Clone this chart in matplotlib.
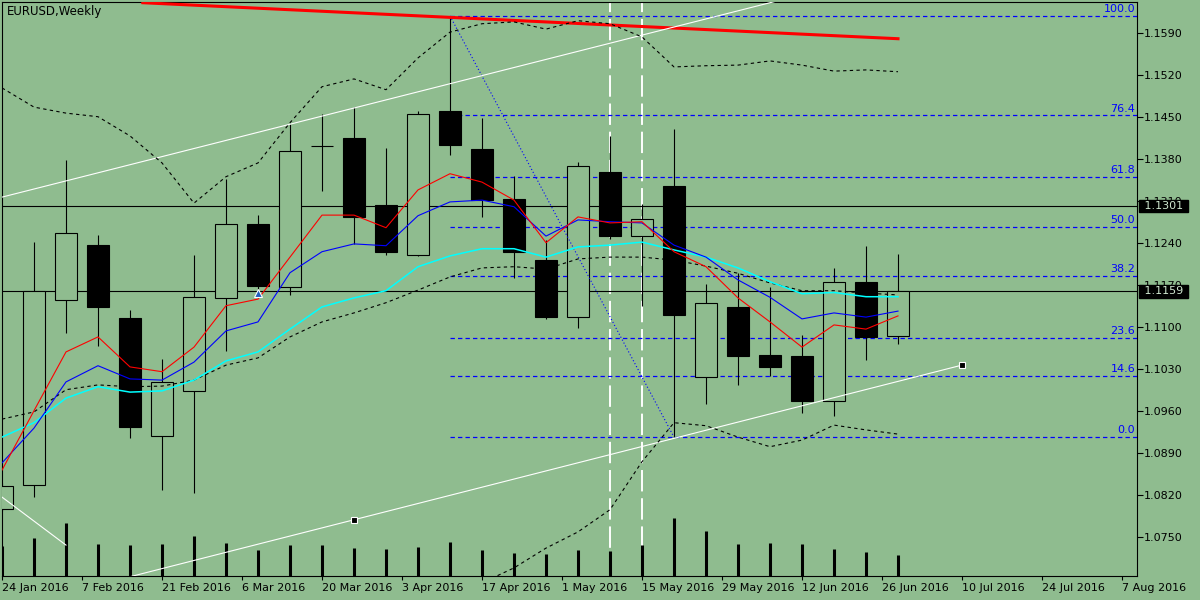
import numpy as np
import matplotlib.pyplot as plt
from matplotlib.patches import Rectangle
from matplotlib.transforms import blended_transform_factory

bg = '#8fbc8f'

# EURUSD weekly bars, index 0 = first bar visible at the left edge
opens = [1.0796, 1.0836, 1.1145, 1.1236, 1.1115, 1.0918, 1.0993, 1.1148, 1.1271, 1.1166,
         1.1401, 1.1415, 1.1303, 1.1220, 1.1460, 1.1396, 1.1313, 1.1211, 1.1116, 1.1358,
         1.1251, 1.1335, 1.1016, 1.1133, 1.1053, 1.1051, 1.0976, 1.1175, 1.1085]
highs = [1.0840, 1.1241, 1.1378, 1.1253, 1.1128, 1.1046, 1.1220, 1.1346, 1.1286, 1.1438,
         1.1455, 1.1466, 1.1398, 1.1460, 1.1618, 1.1448, 1.1351, 1.1245, 1.1375, 1.1418,
         1.1305, 1.1430, 1.1171, 1.1190, 1.1166, 1.1086, 1.1198, 1.1235, 1.1221]
lows = [1.0793, 1.0816, 1.1090, 1.1068, 1.0915, 1.0828, 1.0823, 1.1060, 1.1153, 1.1153,
        1.1326, 1.1238, 1.1220, 1.1218, 1.1386, 1.1283, 1.1181, 1.1113, 1.1098, 1.1246,
        1.1135, 1.0916, 1.0971, 1.1003, 1.1018, 1.0956, 1.0951, 1.1045, 1.1071]
closes = [1.0835, 1.1160, 1.1256, 1.1133, 1.0933, 1.1008, 1.1150, 1.1271, 1.1168, 1.1393,
          1.1402, 1.1283, 1.1225, 1.1455, 1.1403, 1.1311, 1.1225, 1.1116, 1.1368, 1.1251,
          1.1280, 1.1120, 1.1140, 1.1051, 1.1033, 1.0976, 1.1175, 1.1083, 1.1159]
volumes = [300, 380, 530, 320, 310, 320, 400, 330, 260, 310, 310, 280, 270, 290, 340,
           260, 230, 220, 260, 250, 310, 580, 450, 320, 330, 320, 270, 240, 210]

ma_red = [1.0861, 1.0960, 1.1058, 1.1083, 1.1033, 1.1025, 1.1066, 1.1135, 1.1146, 1.1216,
          1.1286, 1.1286, 1.1265, 1.1328, 1.1355, 1.1341, 1.1311, 1.1240, 1.1283, 1.1273,
          1.1275, 1.1225, 1.1200, 1.1148, 1.1108, 1.1066, 1.1103, 1.1096, 1.1118]
ma_blue = [1.0873, 1.0931, 1.1008, 1.1035, 1.1013, 1.1011, 1.1041, 1.1093, 1.1108, 1.1190,
           1.1225, 1.1238, 1.1235, 1.1285, 1.1308, 1.1311, 1.1300, 1.1251, 1.1278, 1.1275,
           1.1273, 1.1236, 1.1216, 1.1178, 1.1149, 1.1113, 1.1123, 1.1116, 1.1126]
ma_cyan = [1.0916, 1.0940, 1.0981, 1.1000, 1.0991, 1.0993, 1.1011, 1.1043, 1.1058, 1.1096,
           1.1133, 1.1148, 1.1160, 1.1200, 1.1218, 1.1230, 1.1230, 1.1216, 1.1233, 1.1236,
           1.1241, 1.1228, 1.1216, 1.1198, 1.1175, 1.1155, 1.1157, 1.1150, 1.1150]
band_up = [1.1498, 1.1466, 1.1456, 1.1450, 1.1418, 1.1373, 1.1306, 1.1350, 1.1373, 1.1440,
           1.1500, 1.1513, 1.1495, 1.1548, 1.1591, 1.1605, 1.1608, 1.1596, 1.1610, 1.1605,
           1.1583, 1.1533, 1.1535, 1.1536, 1.1543, 1.1536, 1.1526, 1.1528, 1.1525]
band_mid = [1.0946, 1.0958, 1.0995, 1.1003, 1.1000, 1.1001, 1.1011, 1.1036, 1.1048, 1.1083,
            1.1108, 1.1123, 1.1140, 1.1161, 1.1183, 1.1198, 1.1200, 1.1196, 1.1213, 1.1216,
            1.1216, 1.1211, 1.1201, 1.1189, 1.1173, 1.1160, 1.1160, 1.1156, 1.1153]
band_low = [np.nan] * 14 + [1.0645, 1.0673, 1.0698, 1.0731, 1.0758, 1.0795, 1.0875, 1.0940,
                            1.0935, 1.0916, 1.0900, 1.0911, 1.0936, 1.0928, 1.0921]

date_labels = ['24 Jan 2016', '7 Feb 2016', '21 Feb 2016', '6 Mar 2016', '20 Mar 2016',
               '3 Apr 2016', '17 Apr 2016', '1 May 2016', '15 May 2016', '29 May 2016',
               '12 Jun 2016', '26 Jun 2016', '10 Jul 2016', '24 Jul 2016', '7 Aug 2016']
date_pos = [2.5 * i for i in range(len(date_labels))]
price_ticks = [1.0750, 1.0820, 1.0890, 1.0960, 1.1030, 1.1100, 1.1170,
               1.1240, 1.1310, 1.1380, 1.1450, 1.1520, 1.1590]

# objects drawn on the chart
fib_levels = [0.0, 14.6, 23.6, 38.2, 50.0, 61.8, 76.4, 100.0]
fib_high = (14, 1.1618)
fib_low = (21, 1.0916)
hlines_black = [1.1301, 1.1159]
vlines_white = [19, 20]
red_trend = [(4.4, 1.1640), (28, 1.1580)]
white_up = [(0, 1.1316), (26, 1.1667)]
white_low = [(0, 1.0629), (30, 1.1036)]
white_low_marks = [(11, 1.0778), (30, 1.1036)]
white_small = [(0, 1.0816), (2, 1.0736)]
arrow_mark = (8, 1.1156)

fig = plt.figure(figsize=(12, 6), dpi=100, facecolor=bg)
ax = fig.add_axes([2 / 1200, 24 / 600, 1135 / 1200, 574 / 600])
ax2 = ax.twinx()
ax.set_zorder(2)
ax2.set_zorder(1)
ax.patch.set_visible(False)
ax2.patch.set_visible(True)
ax2.patch.set_facecolor(bg)

x = np.arange(len(opens))
ax.set_xlim(0, 1135 / 32)
ax.set_ylim(1.06845, 1.16412)

# volumes + vertical lines on the back axes
for v in vlines_white:
    ax2.axvline(v, color='white', lw=1.4, ls=(0, (11, 3.5)), zorder=1)
ax2.vlines(x, 0, volumes, color='black', lw=2.2, zorder=2)
ax2.set_ylim(0, 5740)
ax2.set_yticks([])
for s in ax2.spines.values():
    s.set_visible(False)

# candles
for i in range(len(opens)):
    o, h, l, c = opens[i], highs[i], lows[i], closes[i]
    ax.vlines(i, l, h, color='black', lw=0.8, zorder=3)
    fc = 'black' if c < o else bg
    ax.add_patch(Rectangle((i - 0.34, min(o, c)), 0.68, max(abs(c - o), 0.00005),
                           facecolor=fc, edgecolor='black', lw=0.8, zorder=4))

# horizontal lines
for p in hlines_black:
    ax.axhline(p, color='black', lw=0.8, zorder=2)

# fibonacci
rng = fib_high[1] - fib_low[1]
for lv in fib_levels:
    p = fib_low[1] + rng * lv / 100
    ax.hlines(p, fib_high[0], 1135 / 32, color='blue', lw=0.9, ls=(0, (3.5, 2.5)), zorder=2)
    ax.text(35.41, p + 0.0003, '%.1f' % lv, ha='right', va='bottom', color='blue', fontsize=8, zorder=6)
ax.plot([fib_high[0], fib_low[0]], [fib_high[1], fib_low[1]], color='blue', lw=0.8,
        ls=(0, (1, 2)), zorder=5)

# trend lines
ax.plot(*zip(*red_trend), color='red', lw=2.2, zorder=5)
ax.plot(*zip(*white_up), color='white', lw=0.8, zorder=5)
ax.plot(*zip(*white_low), color='white', lw=0.8, zorder=5)
ax.plot(*zip(*white_small), color='white', lw=0.8, zorder=5)
ax.plot(*zip(*white_low_marks), ls='none', marker='s', ms=4, mfc='black', mec='white', mew=0.8, zorder=6)
ax.plot(*arrow_mark, marker='^', ms=6, color='#1f5fbf', mec='white', mew=0.8, zorder=6)

# indicators
ax.plot(x, band_up, color='black', lw=0.8, ls=(0, (3, 3)), zorder=5)
ax.plot(x, band_mid, color='black', lw=0.8, ls=(0, (3, 3)), zorder=5)
ax.plot(x, band_low, color='black', lw=0.8, ls=(0, (3, 3)), zorder=5)
ax.plot(x, ma_cyan, color='cyan', lw=1.1, zorder=5)
ax.plot(x, ma_blue, color='blue', lw=0.8, zorder=5)
ax.plot(x, ma_red, color='red', lw=0.8, zorder=5)

# axes look
ax.yaxis.tick_right()
ax.set_yticks(price_ticks)
ax.set_yticklabels(['%.4f' % t for t in price_ticks])
ax.set_xticks(date_pos)
ax.set_xticklabels(date_labels, ha='left')
ax.tick_params(axis='y', direction='out', length=4, width=0.8, pad=1, labelsize=8, colors='black')
ax.tick_params(axis='x', direction='out', length=3, width=0.8, pad=2, labelsize=8, colors='black')
for s in ax.spines.values():
    s.set_color('black')
    s.set_linewidth(0.8)

# current price labels (cover the ticks behind them, like the terminal does)
tr = blended_transform_factory(ax.transAxes, ax.transData)
for p in hlines_black:
    ax.text(1.0032, p, ' %.4f ' % p, transform=tr, ha='left', va='center', fontsize=8,
            color='#cfe6cf', zorder=10, clip_on=False,
            bbox=dict(boxstyle='square,pad=0.12', facecolor='black', edgecolor='black'))

fig.text(7 / 1200, 1 - 12 / 600, 'EURUSD,Weekly', fontsize=8.5, va='center', ha='left')

fig.savefig('out.png', dpi=100, facecolor=bg)
